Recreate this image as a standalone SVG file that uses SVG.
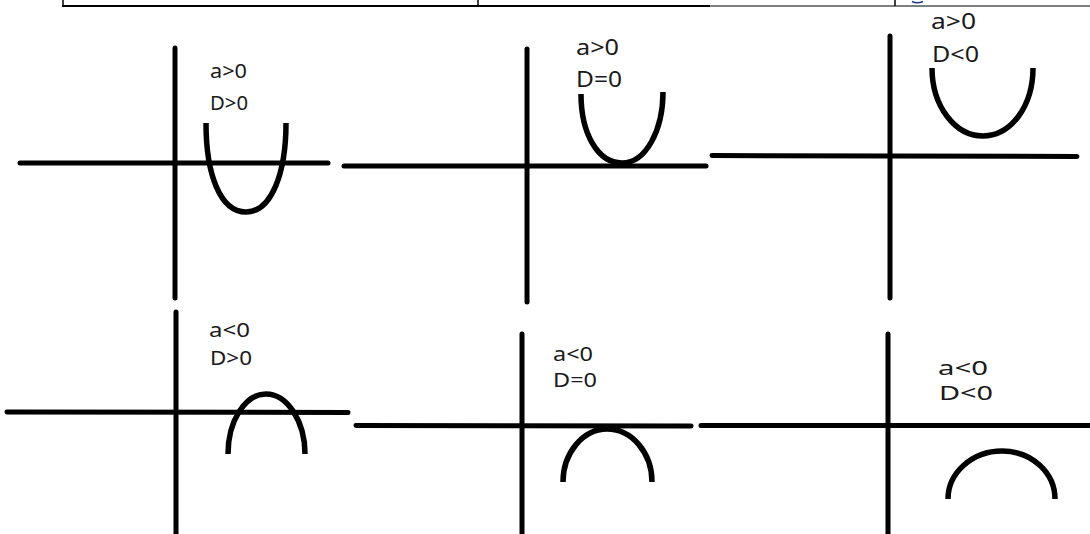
<svg xmlns="http://www.w3.org/2000/svg" width="1090" height="534" viewBox="0 0 1090 534">
<style>
.ax{stroke:#000;stroke-width:5;stroke-linecap:round;fill:none}
.cv{stroke:#000;stroke-width:5.5;stroke-linecap:butt;fill:none}
.lb{font-family:"Noto Sans","DejaVu Sans",sans-serif;fill:#1a1a1a}
.tb{stroke:#000;fill:none}
</style>
<rect width="1090" height="534" fill="#fff"/>
<g id="table-edge">
<line class="tb" x1="63" y1="0" x2="63" y2="6" stroke-width="1.5"/>
<line class="tb" x1="478" y1="0" x2="478" y2="6" stroke-width="1.5"/>
<line class="tb" x1="895" y1="0" x2="895" y2="6" stroke-width="1.5"/>
<line class="tb" x1="62" y1="6" x2="710" y2="6" stroke-width="2.2"/>
<line class="tb" x1="710" y1="6" x2="1090" y2="6" stroke-width="1.2"/>
<path d="M912,1.5 Q917,4 923,1.5" stroke="#1a3a8a" stroke-width="1.5" fill="none"/>
</g>
<g id="connectors">
<line class="ax" x1="20" y1="163" x2="328" y2="163"/>
<line class="ax" x1="175" y1="48" x2="175" y2="298"/>
<line class="ax" x1="344" y1="166" x2="706" y2="166"/>
<line class="ax" x1="527" y1="49" x2="527" y2="302"/>
<line class="ax" x1="712" y1="155.5" x2="1077" y2="156.5"/>
<line class="ax" x1="890" y1="36" x2="890" y2="298"/>
<line class="ax" x1="7" y1="412" x2="348" y2="412.5"/>
<line class="ax" x1="176" y1="312" x2="176" y2="536"/>
<line class="ax" x1="356" y1="425.5" x2="691" y2="426"/>
<line class="ax" x1="522" y1="334" x2="522" y2="536"/>
<line class="ax" x1="701" y1="425.5" x2="1092" y2="425.5"/>
<line class="ax" x1="888" y1="334" x2="888" y2="536"/>
</g>
<g id="p1">
<path class="cv" d="M206,123 C206,174 220,212 246,212 C272,212 286,172 286,123"/>
<text class="lb" x="210" y="78" font-size="20" textLength="37" lengthAdjust="spacingAndGlyphs">a&gt;0</text>
<text class="lb" x="210" y="110" font-size="20" textLength="38" lengthAdjust="spacingAndGlyphs">D&gt;0</text>
</g>
<g id="p2">
<path class="cv" d="M581,94 C581,134 598,163 622,163 C646,163 663,130 663,92"/>
<text class="lb" x="576" y="55" font-size="21" textLength="43" lengthAdjust="spacingAndGlyphs">a&gt;0</text>
<text class="lb" x="576" y="86.5" font-size="21" textLength="46" lengthAdjust="spacingAndGlyphs">D=0</text>
</g>
<g id="p3">
<path class="cv" d="M932,68 C932,106 955,136 983,136 C1011,136 1033,106 1033,68"/>
<text class="lb" x="931" y="29" font-size="21" textLength="45" lengthAdjust="spacingAndGlyphs">a&gt;0</text>
<text class="lb" x="932" y="62" font-size="21" textLength="47" lengthAdjust="spacingAndGlyphs">D&lt;0</text>
</g>
<g id="p4">
<path class="cv" d="M228,454 C228,421 245,394 266,394 C287,394 305,421 305,454"/>
<text class="lb" x="209" y="337" font-size="20" textLength="41" lengthAdjust="spacingAndGlyphs">a&lt;0</text>
<text class="lb" x="210" y="365" font-size="20" textLength="42" lengthAdjust="spacingAndGlyphs">D&gt;0</text>
</g>
<g id="p5">
<path class="cv" d="M563,482 C563,453 583,429 607,429 C632,429 652,453 652,482"/>
<text class="lb" x="553" y="361" font-size="19.5" textLength="40" lengthAdjust="spacingAndGlyphs">a&lt;0</text>
<text class="lb" x="553" y="387" font-size="19.5" textLength="44" lengthAdjust="spacingAndGlyphs">D=0</text>
</g>
<g id="p6">
<path class="cv" d="M948,499 C948,473 972,451 1002,451 C1032,451 1055,473 1055,499"/>
<text class="lb" x="938" y="375" font-size="19" textLength="50" lengthAdjust="spacingAndGlyphs">a&lt;0</text>
<text class="lb" x="939" y="400" font-size="19" textLength="54" lengthAdjust="spacingAndGlyphs">D&lt;0</text>
</g>
</svg>
